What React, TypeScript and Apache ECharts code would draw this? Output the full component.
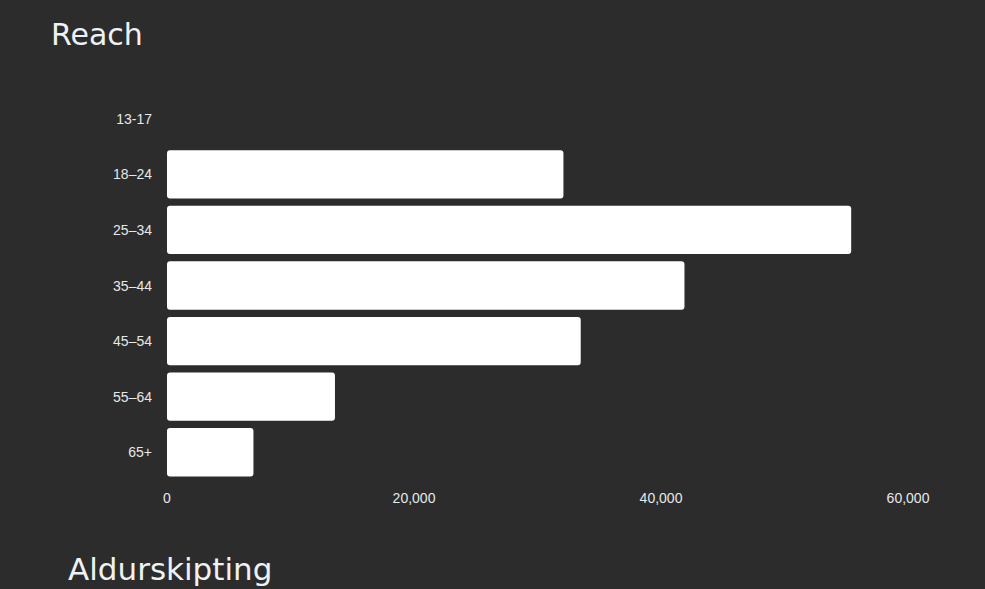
import React, { useEffect, useRef } from "react";
import * as echarts from "echarts";

const categories = ["13-17", "18–24", "25–34", "35–44", "45–54", "55–64", "65+"];
const reachValues = [0, 32100, 55400, 41900, 33500, 13600, 7000];
const xTicks = [0, 20000, 40000, 60000];

export default function App() {
  const ref = useRef<HTMLDivElement>(null);
  useEffect(() => {
    if (!ref.current) return;
    const chart = echarts.init(ref.current, undefined, { renderer: "svg" });
    chart.setOption({
      animation: false,
      backgroundColor: "#2c2c2c",
      title: [
        {
          text: "Reach",
          left: 46,
          top: 14,
          textStyle: { color: "#eef2f4", fontSize: 30, fontWeight: "normal", fontFamily: "DejaVu Sans" },
        },
      ],
      graphic: [
        {
          type: "text",
          left: 68,
          top: 553,
          style: {
            text: "Aldurskipting",
            fill: "#eef2f4",
            fontSize: 31,
            fontWeight: "normal",
            fontFamily: "DejaVu Sans",
          },
        },
      ],
      grid: { left: 167, right: 77, top: 91, bottom: 109, containLabel: false },
      xAxis: {
        type: "value",
        min: xTicks[0],
        max: xTicks[xTicks.length - 1],
        interval: 20000,
        splitLine: { show: false },
        axisLine: { show: false },
        axisTick: { show: false },
        axisLabel: {
          color: "#e6e8ea",
          fontSize: 14,
          fontFamily: "Liberation Sans",
          margin: 11,
          formatter: (v: number) => v.toLocaleString("en-US"),
        },
      },
      yAxis: {
        type: "category",
        data: categories,
        inverse: true,
        axisLine: { show: false },
        axisTick: { show: false },
        splitLine: { show: false },
        axisLabel: {
          color: "#e6e8ea",
          fontSize: 14,
          fontFamily: "Liberation Sans",
          margin: 15,
        },
      },
      series: [
        {
          type: "bar",
          data: reachValues,
          barCategoryGap: "13%",
          itemStyle: { color: "#ffffff", borderRadius: 3 },
        },
      ],
    });
    return () => chart.dispose();
  }, []);
  return (
    <div
      ref={ref}
      style={{ position: "fixed", left: 0, top: 0, width: 985, height: 589 }}
    />
  );
}
